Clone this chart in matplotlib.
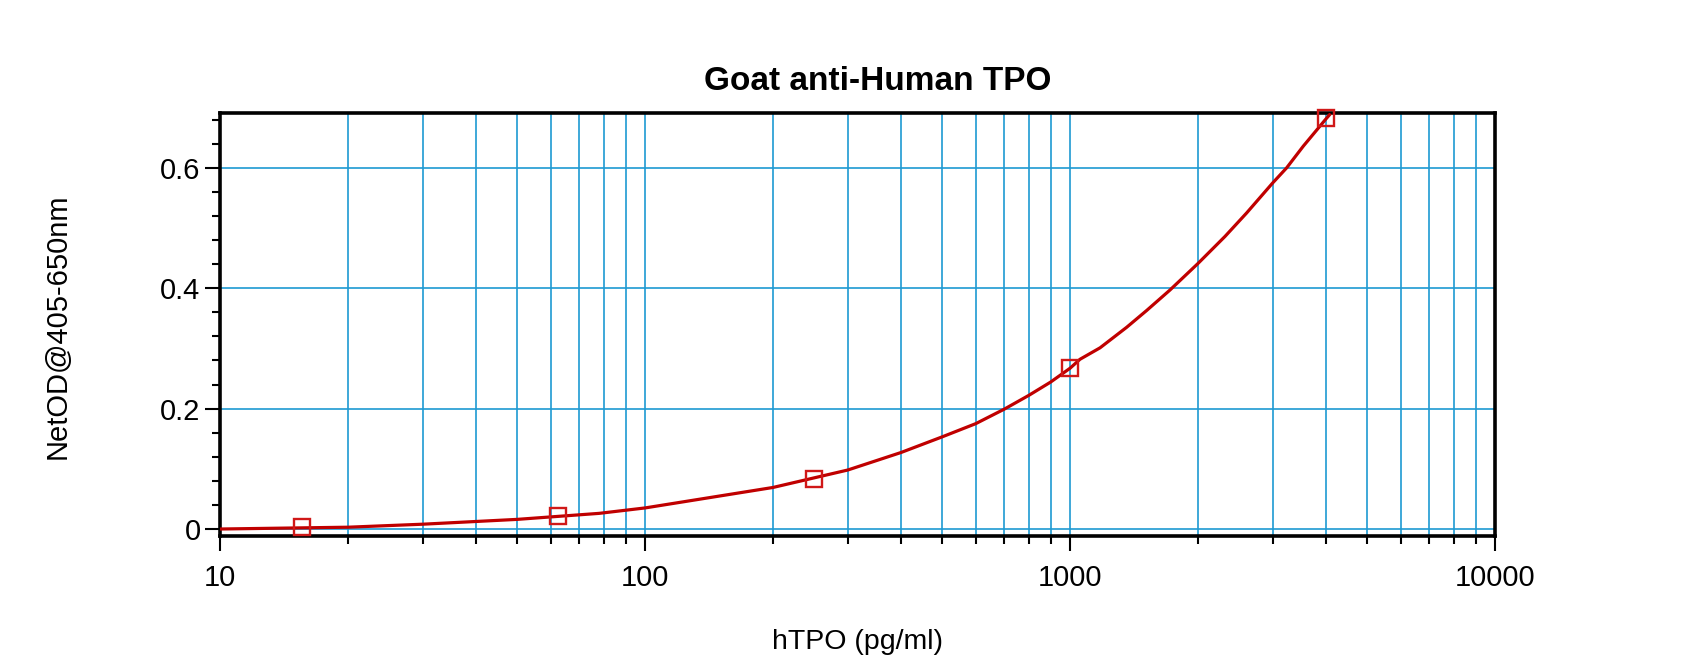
import matplotlib
matplotlib.use("Agg")
import matplotlib.pyplot as plt
from matplotlib.ticker import LogLocator, MultipleLocator, FixedLocator, FixedFormatter

plt.rcParams['font.family'] = ['Liberation Sans', 'DejaVu Sans']

# standards (pg/ml) and measured OD
conc = [15.6, 62.5, 250, 1000, 4000]
od = [0.004, 0.022, 0.083, 0.268, 0.682]

# fitted curve
fit_x = [10, 20, 30, 50, 78, 100, 200, 300, 400, 500, 600, 700, 800, 900,
         1000, 1056, 1177, 1359, 1515, 1719, 2000, 2316, 2604, 3000, 3235,
         3540, 4000, 4080]
fit_y = [0.000, 0.003, 0.008, 0.016, 0.026, 0.035, 0.069, 0.098, 0.127, 0.153,
         0.175, 0.199, 0.222, 0.244, 0.267, 0.282, 0.301, 0.335, 0.363, 0.397,
         0.441, 0.486, 0.525, 0.575, 0.600, 0.636, 0.681, 0.688]

x_ticks = [10, 100, 1000, 10000]
x_labels = ['10', '100', '1000', '10000']
y_ticks = [0, 0.2, 0.4, 0.6]
y_labels = ['0', '0.2', '0.4', '0.6']

grid_col = '#1E9AD2'
red = '#C00000'

fig = plt.figure(figsize=(17, 6.66), dpi=100)
ax = fig.add_axes([220 / 1700, 1 - 536 / 666, 1275 / 1700, 423 / 666])

ax.set_xscale('log')
ax.set_xlim(10, 10000)
ax.set_ylim(-0.0116, 0.691)

ax.xaxis.set_major_locator(FixedLocator(x_ticks))
ax.xaxis.set_major_formatter(FixedFormatter(x_labels))
ax.xaxis.set_minor_locator(LogLocator(base=10, subs=range(2, 10)))
ax.xaxis.set_minor_formatter(plt.NullFormatter())
ax.yaxis.set_major_locator(FixedLocator(y_ticks))
ax.yaxis.set_major_formatter(FixedFormatter(y_labels))
ax.yaxis.set_minor_locator(MultipleLocator(0.04))

ax.grid(True, which='both', axis='x', color=grid_col, lw=1.2)
ax.grid(True, which='major', axis='y', color=grid_col, lw=1.2)
ax.set_axisbelow(True)

ax.plot(fit_x, fit_y, color=red, lw=2.3, zorder=3)
ax.plot(conc, od, ls='none', marker='s', ms=11.5, mfc='none', mec='#D01818',
        mew=1.7, zorder=4, clip_on=False)

for s in ax.spines.values():
    s.set_linewidth(2.6)

ax.tick_params(axis='both', which='major', direction='out', length=11, width=1.5,
               labelsize=21, top=False, right=False)
ax.tick_params(axis='both', which='minor', direction='out', length=5.5, width=1.5,
               top=False, right=False)
ax.tick_params(axis='x', which='major', pad=9)
ax.tick_params(axis='y', which='major', pad=3)

fig.text(878 / 1700, 1 - 90 / 666, 'Goat anti-Human TPO', ha='center', va='baseline',
         fontsize=24, fontweight='bold')
fig.text(857 / 1700, 1 - 649 / 666, 'hTPO (pg/ml)', ha='center', va='baseline', fontsize=20.5)
fig.text(58 / 1700, 1 - 326 / 666, 'NetOD@405-650nm', ha='center', va='center',
         rotation=90, fontsize=21)

fig.savefig('out.png', dpi=100)
